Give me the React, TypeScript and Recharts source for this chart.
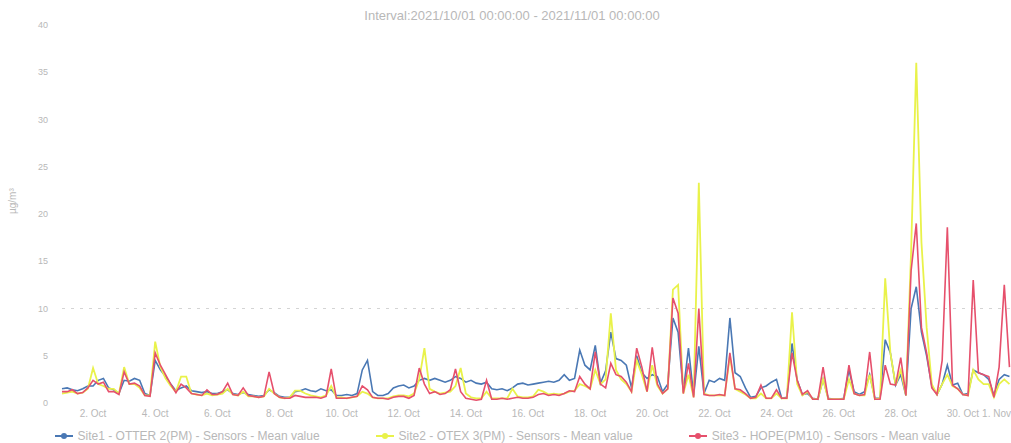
import { LineChart, Line, XAxis, YAxis, ReferenceLine, Legend } from "recharts";

// 4-hour samples starting 2021/10/01 00:00, one row of six per day
const blueValues = [
  1.5, 1.6, 1.4, 1.3, 1.5, 1.8,
  1.8, 2.4, 2.6, 1.6, 1.4, 1.0,
  2.4, 2.3, 2.6, 2.4, 1.0, 0.8,
  4.5, 3.5, 2.8, 2.0, 1.3, 1.6,
  1.8, 1.3, 1.2, 1.1, 1.2, 1.0,
  1.0, 1.2, 1.4, 1.0, 0.9, 1.1,
  0.9, 0.8, 0.7, 0.8, 1.4, 1.1,
  0.7, 0.6, 0.6, 1.2, 1.3, 1.5,
  1.3, 1.2, 1.5, 1.3, 1.4, 0.8,
  0.8, 0.9, 0.8, 1.0, 3.5, 4.5,
  1.2, 0.8, 0.8, 1.0, 1.6, 1.8,
  1.9, 1.6, 1.8, 2.4, 2.6, 2.4,
  2.6, 2.4, 2.2, 2.4, 2.8, 2.6,
  2.2, 2.4, 2.1, 2.0, 2.2, 1.5,
  1.4, 1.5, 1.3, 1.6, 2.0, 2.1,
  1.9, 2.0, 2.1, 2.2, 2.3, 2.2,
  2.4, 3.0, 2.4, 2.6, 5.6, 4.0,
  3.5, 6.1, 2.1, 3.4, 7.5, 4.7,
  4.5, 4.0, 1.6, 5.0, 3.2, 2.6,
  3.0, 2.8, 1.2, 2.0, 9.0, 7.5,
  1.2, 5.8, 0.8, 6.0, 1.0, 2.4,
  2.2, 2.6, 2.4, 9.0, 3.2, 2.8,
  1.6, 0.6, 0.7, 1.6, 1.8, 2.2,
  2.5, 0.5, 0.6, 6.3, 2.4, 0.9,
  1.0, 0.5, 0.4, 2.5, 0.5, 0.4,
  0.4, 0.5, 3.5, 1.2, 0.9, 1.2,
  3.0, 0.5, 0.5, 6.7, 5.3, 1.9,
  3.0, 0.8, 10.0, 12.3, 7.5, 5.0,
  1.8, 0.9, 2.0, 4.0, 1.9, 2.1,
  0.9, 1.0, 3.5, 3.2, 3.0, 2.5,
  0.8, 2.5, 3.0, 2.8,
];

const yellowValues = [
  1.0, 1.1, 1.2, 1.0, 1.1, 1.5,
  3.7, 2.0, 1.8, 1.5, 1.5, 1.0,
  3.8, 2.0, 2.0, 1.6, 0.8, 0.8,
  6.5, 3.8, 2.6, 1.8, 1.2, 2.8,
  2.8, 1.0, 0.9, 0.8, 1.0, 0.8,
  0.9, 1.0, 1.5, 0.9, 0.8, 1.2,
  0.7, 0.7, 0.6, 0.7, 1.5, 1.0,
  0.6, 0.5, 0.6, 1.3, 1.3, 1.0,
  0.8, 0.7, 0.6, 0.8, 1.8, 0.6,
  0.6, 0.5, 0.6, 0.7, 1.2, 1.0,
  0.6, 0.5, 0.5, 0.5, 0.7, 0.8,
  0.8, 0.7, 1.0, 2.5, 5.8, 1.5,
  1.2, 1.0, 1.1, 1.2, 1.8, 3.7,
  1.0, 0.6, 0.5, 0.5, 1.2, 0.5,
  0.5, 0.5, 0.5, 1.5, 0.7, 0.6,
  0.6, 0.7, 1.4, 1.2, 0.9, 1.0,
  0.9, 1.0, 1.2, 1.3, 2.0, 1.8,
  1.5, 3.5, 2.0, 2.5, 9.5, 3.5,
  2.5, 2.0, 1.2, 4.5, 3.0, 1.2,
  4.0, 1.8, 1.0, 1.5, 12.0, 12.5,
  1.0, 3.0, 0.6, 23.3, 1.0, 0.8,
  0.8, 0.8, 0.8, 5.0, 1.5, 1.2,
  0.9, 0.5, 0.5, 1.0, 0.5, 0.5,
  1.0, 0.5, 0.5, 9.6, 2.0, 0.8,
  1.2, 0.4, 0.4, 2.5, 0.4, 0.4,
  0.4, 0.4, 2.5, 1.0, 0.8, 0.8,
  3.0, 0.4, 0.5, 13.2, 5.3, 1.9,
  3.5, 0.8, 16.0, 36.0, 17.0, 8.0,
  2.0, 0.9, 2.0, 3.0, 1.8, 1.5,
  0.9, 0.8, 3.5, 2.5, 2.0, 2.0,
  0.6, 2.0, 2.5, 2.0,
];

const redValues = [
  1.2, 1.2, 1.4, 1.0, 1.1, 1.6,
  2.4, 2.0, 2.2, 1.2, 1.2, 0.9,
  3.3, 2.0, 2.1, 1.8, 0.8, 0.7,
  5.3, 4.0, 3.0, 2.0, 1.1, 2.0,
  1.6, 1.0, 0.9, 0.8, 1.4, 0.9,
  0.9, 1.2, 2.1, 0.9, 0.8, 1.6,
  0.8, 0.7, 0.6, 0.7, 3.3, 1.0,
  0.6, 0.5, 0.5, 0.8, 0.7, 0.6,
  0.6, 0.6, 0.5, 0.7, 3.6, 0.5,
  0.5, 0.5, 0.6, 0.7, 1.8, 1.4,
  0.6, 0.5, 0.5, 0.4, 0.6, 0.7,
  0.7, 0.5, 0.8, 3.7, 2.0, 1.0,
  1.2, 0.9, 1.0, 1.4, 3.6, 1.2,
  0.5, 0.4, 0.3, 0.4, 2.4, 0.4,
  0.4, 0.5, 0.4, 0.5, 0.6, 0.5,
  0.5, 0.6, 0.9, 1.0, 0.8, 0.9,
  0.8, 1.0, 1.3, 1.2, 2.8, 2.0,
  1.5, 5.4, 2.0, 1.6, 4.2, 3.0,
  2.8, 2.2, 1.2, 5.8, 3.8, 1.2,
  5.9, 2.0, 1.0, 1.5, 11.1, 9.5,
  1.0, 4.2, 0.6, 10.0, 0.9, 0.8,
  0.8, 0.9, 0.8, 5.3, 1.5, 1.4,
  1.0, 0.5, 0.6, 1.9, 0.5, 0.5,
  1.4, 0.5, 0.5, 5.3, 2.4, 0.9,
  1.3, 0.4, 0.4, 3.8, 0.4, 0.4,
  0.4, 0.4, 4.0, 1.0, 0.8, 0.9,
  5.4, 0.4, 0.4, 4.0, 2.0, 1.9,
  4.8, 0.8, 14.0, 19.0, 8.0, 5.3,
  1.6, 0.9, 4.5, 18.6, 1.9, 1.5,
  0.9, 0.8, 13.0, 3.2, 3.0, 2.8,
  0.6, 3.8, 12.5, 3.8,
];

const tickHours = [24, 72, 120, 168, 216, 264, 312, 360, 408, 456, 504, 552, 600, 648, 696, 744];
const tickLabels = [
  "2. Oct", "4. Oct", "6. Oct", "8. Oct", "10. Oct", "12. Oct", "14. Oct", "16. Oct",
  "18. Oct", "20. Oct", "22. Oct", "24. Oct", "26. Oct", "28. Oct", "30. Oct", "1. Nov",
];
const yTicks = [0, 5, 10, 15, 20, 25, 30, 35, 40];

const seriesNames = [
  "Site1 - OTTER 2(PM) - Sensors - Mean value",
  "Site2 - OTEX 3(PM) - Sensors - Mean value",
  "Site3 - HOPE(PM10) - Sensors - Mean value",
];

const STEP_HOURS = 4;
const BLUE = "#4a78b4";
const YELLOW = "#e9f24a";
const RED = "#e6506c";
const TEXT = "#b8b8b8";
const FONT = "'Liberation Sans', Arial, sans-serif";

const rows = blueValues.map((b, i) => ({
  t: i * STEP_HOURS,
  blue: b,
  yellow: yellowValues[i],
  red: redValues[i],
}));

function XTick(props: any) {
  const { x, y, payload } = props;
  const idx = tickHours.indexOf(payload.value);
  const last = idx === tickHours.length - 1;
  return (
    <text
      x={last ? x - 14 : x}
      y={y + 6}
      textAnchor={last ? "end" : "middle"}
      fontSize={10}
      fill={TEXT}
      fontFamily={FONT}
    >
      {tickLabels[idx]}
    </text>
  );
}

function LegendBox() {
  const colors = [BLUE, YELLOW, RED];
  return (
    <div
      style={{
        display: "flex",
        justifyContent: "center",
        gap: 56,
        height: 20,
        alignItems: "center",
        fontFamily: FONT,
        fontSize: 12,
        color: TEXT,
        paddingRight: 20,
        transform: "translateY(3px)",
      }}
    >
      {seriesNames.map((name, i) => (
        <span key={name} style={{ display: "flex", alignItems: "center", gap: 5 }}>
          <svg width={18} height={8}>
            <line x1={0} y1={4} x2={18} y2={4} stroke={colors[i]} strokeWidth={2} />
            <circle cx={9} cy={4} r={3} fill={colors[i]} />
          </svg>
          {name}
        </span>
      ))}
    </div>
  );
}

export default function App() {
  return (
    <div
      style={{
        position: "fixed",
        left: 0,
        top: 0,
        width: 1011,
        height: 443,
        overflow: "hidden",
        background: "#fff",
      }}
    >
      <div
        style={{
          position: "absolute",
          top: 8,
          left: 0,
          width: 1024,
          textAlign: "center",
          fontFamily: FONT,
          fontSize: 13,
          color: TEXT,
        }}
      >
        Interval:2021/10/01 00:00:00 - 2021/11/01 00:00:00
      </div>
      <LineChart
        width={1030}
        height={443}
        data={rows}
        margin={{ top: 25, right: 5, bottom: 0, left: 0 }}
      >
        <XAxis
          dataKey="t"
          type="number"
          domain={[0, 744]}
          ticks={tickHours}
          interval={0}
          tick={<XTick />}
          tickLine={false}
          axisLine={false}
          height={20}
        />
        <YAxis
          domain={[0, 40]}
          ticks={yTicks}
          width={62}
          tickLine={false}
          axisLine={false}
          tickSize={0}
          tickMargin={14}
          tick={{ fontSize: 9, fill: TEXT, fontFamily: FONT }}
          label={{
            value: "µg/m³",
            angle: -90,
            position: "insideLeft",
            offset: 12,
            style: { fontSize: 10, fill: TEXT, fontFamily: FONT },
          }}
        />
        <ReferenceLine y={10} stroke="#d4d4d4" strokeDasharray="3 6" />
        <Line
          type="linear"
          dataKey="blue"
          stroke={BLUE}
          strokeWidth={1.6}
          dot={false}
          isAnimationActive={false}
        />
        <Line
          type="linear"
          dataKey="yellow"
          stroke={YELLOW}
          strokeWidth={1.8}
          dot={false}
          isAnimationActive={false}
        />
        <Line
          type="linear"
          dataKey="red"
          stroke={RED}
          strokeWidth={1.6}
          dot={false}
          isAnimationActive={false}
        />
        <Legend verticalAlign="bottom" height={20} content={<LegendBox />} />
      </LineChart>
    </div>
  );
}
